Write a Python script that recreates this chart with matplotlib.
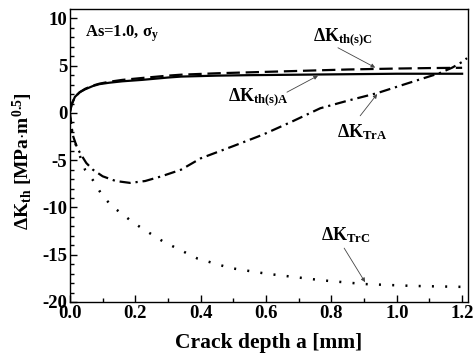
import matplotlib
matplotlib.use("Agg")
import matplotlib.pyplot as plt
import numpy as np

plt.rcParams['font.family'] = ['Liberation Serif', 'DejaVu Serif']
plt.rcParams['font.weight'] = 'bold'
plt.rcParams['mathtext.fontset'] = 'custom'
plt.rcParams['mathtext.rm'] = 'Liberation Serif:bold'
plt.rcParams['mathtext.it'] = 'Liberation Serif:bold'
plt.rcParams['mathtext.bf'] = 'Liberation Serif:bold'
plt.rcParams['axes.unicode_minus'] = False

# Data
a_thA = [0.0, 0.005, 0.015, 0.03, 0.046, 0.07, 0.09, 0.12, 0.16, 0.22, 0.3, 0.34, 0.45, 0.55, 0.7, 0.85, 1.0, 1.1, 1.2]
k_thA = [0.1, 0.9, 1.7, 2.2, 2.5, 2.85, 3.05, 3.2, 3.35, 3.5, 3.75, 3.85, 3.95, 4.0, 4.05, 4.1, 4.15, 4.15, 4.15]

a_thC = [0.0, 0.005, 0.015, 0.03, 0.046, 0.07, 0.09, 0.12, 0.16, 0.22, 0.3, 0.34, 0.45, 0.55, 0.7, 0.85, 1.0, 1.1, 1.2]
k_thC = [0.1, 0.9, 1.7, 2.2, 2.55, 2.9, 3.1, 3.3, 3.5, 3.7, 3.95, 4.05, 4.2, 4.3, 4.45, 4.6, 4.7, 4.75, 4.78]

a_TrA = [0.0, 0.005, 0.01, 0.02, 0.03, 0.05, 0.07, 0.1, 0.14, 0.184, 0.23, 0.28, 0.34, 0.4, 0.5, 0.59, 0.68, 0.766, 0.85, 0.94, 1.03, 1.13, 1.17, 1.2, 1.215]
k_TrA = [0.0, -1.5, -2.5, -3.5, -4.2, -5.3, -6.0, -6.7, -7.2, -7.4, -7.2, -6.7, -6.0, -4.8, -3.5, -2.3, -0.9, 0.5, 1.3, 2.1, 3.1, 4.2, 4.8, 5.4, 5.8]

a_TrC = [0.0, 0.006, 0.02, 0.046, 0.07, 0.1, 0.13, 0.19, 0.22, 0.285, 0.39, 0.49, 0.6, 0.77, 0.9, 1.05, 1.2]
k_TrC = [-0.5, -2.0, -3.6, -6.0, -7.1, -8.8, -9.9, -11.5, -12.2, -13.6, -15.4, -16.4, -17.0, -17.7, -18.1, -18.3, -18.4]

x_ticks = [0.0, 0.2, 0.4, 0.6, 0.8, 1.0, 1.2]
y_ticks = [-20, -15, -10, -5, 0, 5, 10]

fig = plt.figure(figsize=(4.74, 3.57), dpi=100)
ax = fig.add_axes([70/474, 1-302/357, (468-70)/474, (302-9)/357])

ax.plot(a_thA, k_thA, color='black', lw=1.6, linestyle='-')
ax.plot(a_thC, k_thC, color='black', lw=1.6, linestyle=(0, (6.0, 2.6)))
ax.plot(a_TrA, k_TrA, color='black', lw=1.6, linestyle=(0, (5.0, 2.2, 1.0, 2.2)))
ax.plot(a_TrC, k_TrC, color='black', lw=1.8, linestyle=(0, (0.8, 4.5)))

ax.set_xlim(0, 1.218)
ax.set_ylim(-20, 11)
ax.set_xticks(x_ticks)
ax.set_xticklabels([f"{v:.1f}" for v in x_ticks])
ax.set_yticks(y_ticks)
ax.set_yticklabels([str(v) for v in y_ticks])
ax.set_xticks(np.arange(0, 1.25, 0.1), minor=True)
ax.set_yticks(np.arange(-20, 11, 1), minor=True)
ax.tick_params(axis='both', which='both', direction='in', top=False, right=False,
               labelsize=13.5, width=1.0, pad=2)
ax.tick_params(which='major', length=5)
ax.tick_params(which='minor', length=3)
for sp in ax.spines.values():
    sp.set_linewidth(1.0)

ax.set_xlabel('Crack depth a [mm]', fontsize=15.5, fontweight='bold', labelpad=8)
ax.set_ylabel(r'$\Delta$K$_{th}$ [MPa$\cdot$m$^{0.5}$]', fontsize=14, fontweight='bold')
ax.yaxis.set_label_coords(-0.088, 0.48)

ax.text(0.046, 8.4, r'As=1.0, $\sigma_y$', fontsize=12, fontweight='bold', ha='left', va='center')

arrowp = dict(arrowstyle='-|>', color='#444444', lw=0.6, mutation_scale=6, shrinkA=0, shrinkB=0)
ax.text(0.836, 8.0, r'$\Delta$K$_{th(s)C}$', fontsize=13, ha='center', va='center')
ax.annotate('', xy=(0.934, 4.8), xytext=(0.82, 6.9), arrowprops=arrowp)
ax.text(0.578, 1.7, r'$\Delta$K$_{th(s)A}$', fontsize=13, ha='center', va='center')
ax.annotate('', xy=(0.759, 3.95), xytext=(0.664, 2.2), arrowprops=arrowp)
ax.text(0.894, -2.0, r'$\Delta$K$_{TrA}$', fontsize=13, ha='center', va='center')
ax.annotate('', xy=(0.94, 2.0), xytext=(0.888, -0.3), arrowprops=arrowp)
ax.text(0.845, -12.9, r'$\Delta$K$_{TrC}$', fontsize=13, ha='center', va='center')
ax.annotate('', xy=(0.903, -17.9), xytext=(0.839, -14.3), arrowprops=arrowp)

fig.savefig('out.png', dpi=100)
